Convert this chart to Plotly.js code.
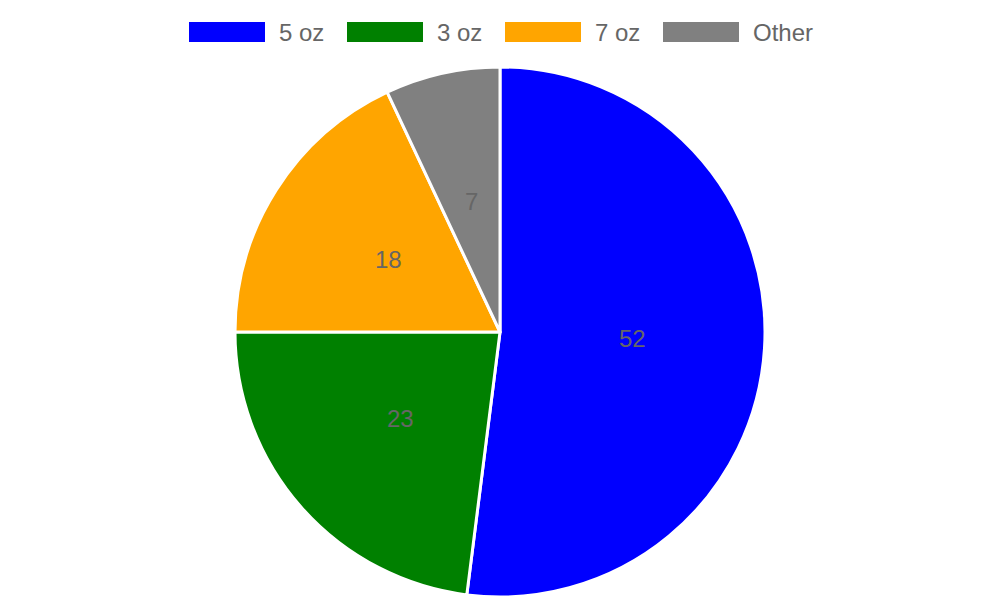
<!DOCTYPE html>
<html>
<head>
<meta charset="utf-8">
<script src="https://cdn.plot.ly/plotly-3.0.1.min.js"></script>
<style>
  html, body { margin: 0; padding: 0; background: #fff; }
  #chart { width: 1000px; height: 600px; }
</style>
</head>
<body>
<div id="chart"></div>
<script>
const labels = ['5 oz', '3 oz', '7 oz', 'Other'];
const values = [52, 23, 18, 7];
const colors = ['#0000ff', '#008000', '#ffa500', '#808080'];

const W = 1000, H = 600;
const padTop = 67, padBottom = 3;
const radius = Math.min(W, H - padTop - padBottom) / 2;
const cy = 1 - (padTop + radius) / H;
const textColor = '#666666';
const font = 'Liberation Sans, Arial, sans-serif';

const trace = {
  type: 'pie',
  labels: labels,
  values: values,
  sort: false,
  direction: 'clockwise',
  rotation: 0,
  textinfo: 'none',
  hoverinfo: 'none',
  showlegend: false,
  domain: { x: [0, 1], y: [padBottom / H, 1 - padTop / H] },
  marker: { colors: colors, line: { color: '#ffffff', width: 3 } }
};

// value labels at half radius on each slice's bisector
const total = values.reduce((a, b) => a + b, 0);
const annotations = [];
let acc = 0;
values.forEach((v, i) => {
  const mid = (acc + v / 2) / total * 2 * Math.PI;
  acc += v;
  annotations.push({
    xref: 'paper', yref: 'paper', x: 0.5, y: cy,
    xshift: radius / 2 * Math.sin(mid),
    yshift: radius / 2 * Math.cos(mid) + 1.5,
    text: String(v), showarrow: false,
    xanchor: 'center', yanchor: 'middle',
    font: { family: font, size: 24, color: textColor }
  });
});

// legend: wide colour boxes with labels
const legendX = [189, 347, 505, 663];
const boxW = 76, boxTop = 22, boxBot = 42;
const shapes = [];
labels.forEach((lab, i) => {
  shapes.push({
    type: 'rect', xref: 'paper', yref: 'paper',
    x0: legendX[i] / W, x1: (legendX[i] + boxW) / W,
    y0: 1 - boxBot / H, y1: 1 - boxTop / H,
    fillcolor: colors[i], line: { width: 0 }
  });
  annotations.push({
    xref: 'paper', yref: 'paper',
    x: (legendX[i] + boxW + 12) / W, y: 1 - (boxTop + boxBot) / 2 / H,
    text: lab, showarrow: false,
    xanchor: 'left', yanchor: 'middle',
    font: { family: font, size: 24, color: textColor }
  });
});

const layout = {
  width: W,
  height: H,
  margin: { l: 0, r: 0, t: 0, b: 0 },
  paper_bgcolor: '#ffffff',
  showlegend: false,
  shapes: shapes,
  annotations: annotations
};

Plotly.newPlot('chart', [trace], layout, { displayModeBar: false, staticPlot: true });
</script>
</body>
</html>
